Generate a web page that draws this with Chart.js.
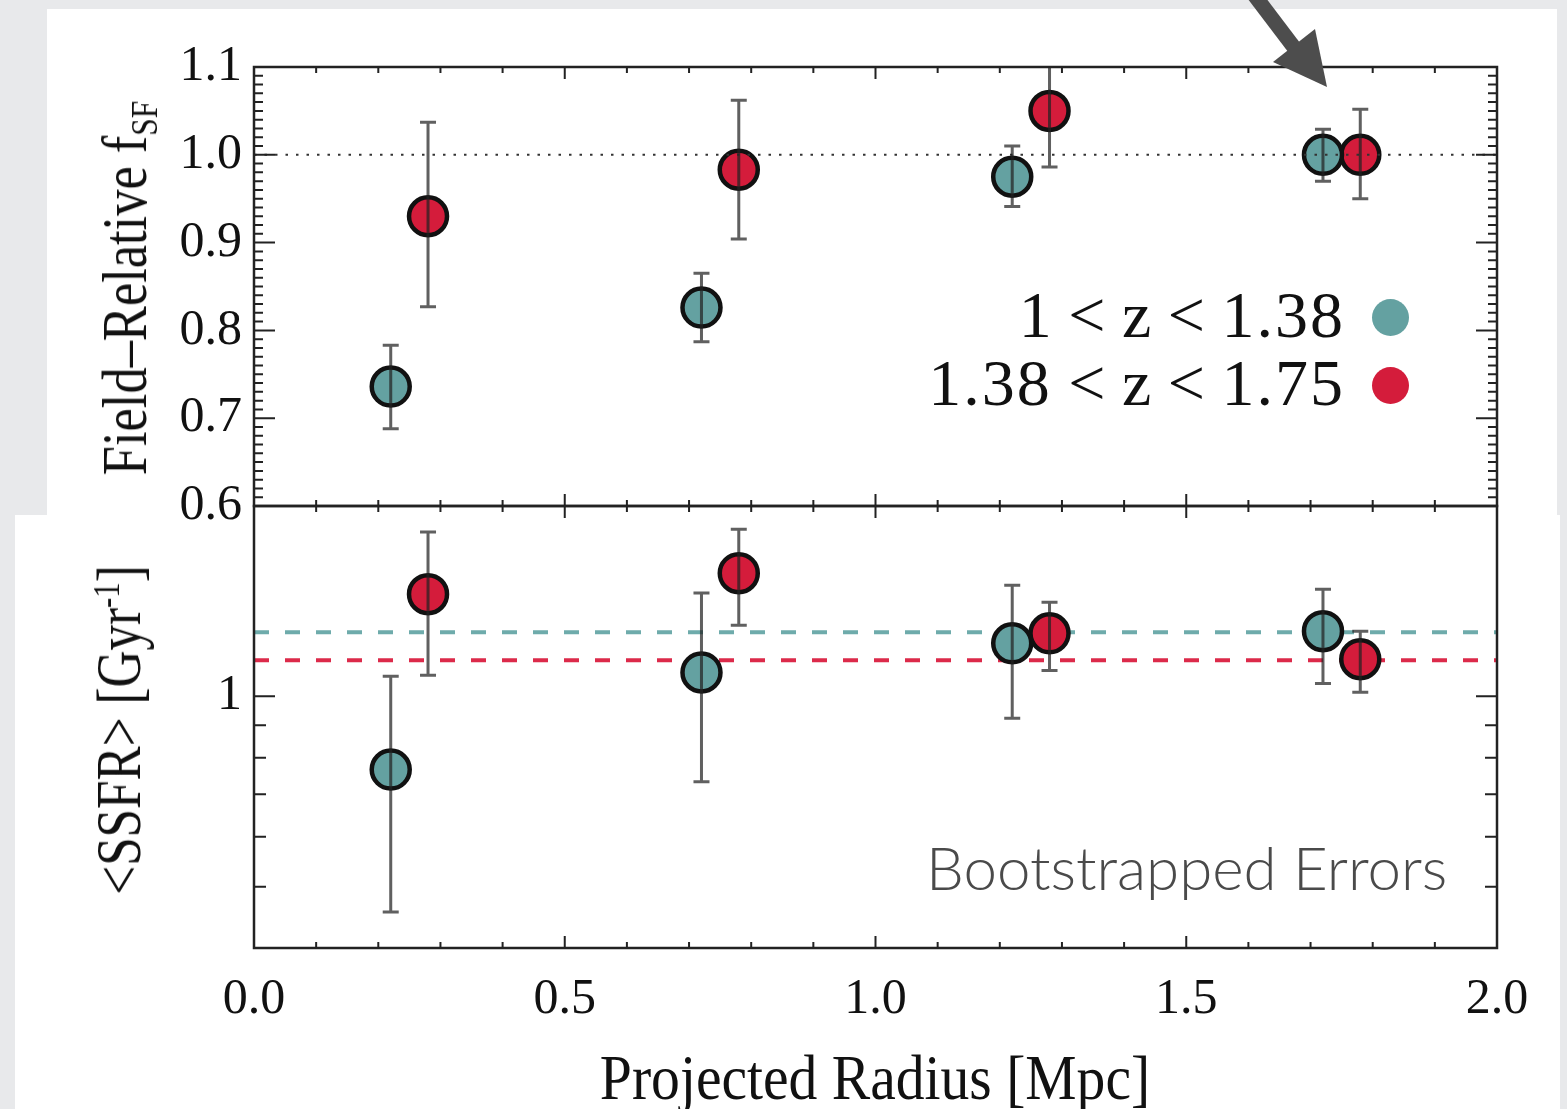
<!DOCTYPE html>
<html>
<head>
<meta charset="utf-8">
<title>Field-relative star formation vs projected radius</title>
<script src="https://cdn.jsdelivr.net/npm/chart.js@4.4.1/dist/chart.umd.min.js"></script>
<style>
  html, body { margin: 0; padding: 0; }
  body {
    width: 1567px; height: 1109px; position: relative; overflow: hidden;
    background: #e8e9eb; font-family: "Liberation Serif", "Times New Roman", serif; color: #111;
  }
  .sheet { position: absolute; background: #fff; }
  #sheetTop { left: 47px; top: 9px; width: 1510px; height: 506px; }
  #sheetBottom { left: 15px; top: 515px; width: 1545px; height: 594px; }
  .plotBox { position: absolute; left: 0; width: 1567px; }
  #fsfBox { top: 0; height: 560px; }
  #ssfrBox { top: 460px; height: 649px; }
  .axisTitle {
    position: absolute; white-space: nowrap; line-height: 1; font-size: 64px;
  }
  .axisTitle .sub { font-size: 0.6em; position: relative; top: 0.28em; }
  .axisTitle .sup { font-size: 0.6em; position: relative; top: -0.55em; }
  #fsfTitle { left: 125px; top: 288px; transform: translate(-50%, -50%) rotate(-90deg) scaleX(0.82); }
  #ssfrTitle { left: 119px; top: 730px; transform: translate(-50%, -50%) rotate(-90deg) scaleX(0.8); }
  #radiusTitle { left: 875px; top: 1078px; transform: translate(-50%, -50%) scaleX(0.9); }
  .legendRow { position: absolute; height: 66px; line-height: 66px; font-size: 66px; white-space: nowrap; }
  .legendRow .num { letter-spacing: 2px; }
  .legendDot { position: absolute; width: 37px; height: 37px; border-radius: 50%; }
  #note {
    position: absolute; left: 926px; top: 835px; font-family: "Lato", sans-serif; font-weight: 300;
    font-size: 60px; line-height: 64px; color: #4a4a4a; white-space: nowrap;
  }
  #pointer { position: absolute; left: 0; top: 0; }
</style>
</head>
<body>
<div class="sheet" id="sheetTop"></div>
<div class="sheet" id="sheetBottom"></div>
<div class="plotBox" id="fsfBox"><canvas id="fsfChart"></canvas></div>
<div class="plotBox" id="ssfrBox"><canvas id="ssfrChart"></canvas></div>

<div class="axisTitle" id="fsfTitle">Field–Relative f<span class="sub">SF</span></div>
<div class="axisTitle" id="ssfrTitle">&lt;SSFR&gt; [Gyr<span class="sup">-1</span>]</div>
<div class="axisTitle" id="radiusTitle">Projected Radius [Mpc]</div>
<div id="legendHolder"></div>
<div id="note">Bootstrapped Errors</div>

<svg id="pointer" width="1567" height="120">
  <line x1="1252" y1="-8" x2="1296" y2="50" stroke="#4d4d4d" stroke-width="15"/>
  <polygon points="1327,87 1273,62 1315,29" fill="#4d4d4d"/>
</svg>

<script>
// bin centres in projected radius (Mpc), offset per redshift slice
const radiusLowZ = [0.22, 0.72, 1.22, 1.72];
const radiusHighZ = [0.28, 0.78, 1.28, 1.78];

// field-relative star-forming fraction
const fsfLowZ = [0.736, 0.826, 0.975, 1.000];
const fsfLowZLo = [0.688, 0.787, 0.941, 0.970];
const fsfLowZHi = [0.783, 0.865, 1.010, 1.029];
const fsfHighZ = [0.930, 0.983, 1.050, 1.000];
const fsfHighZLo = [0.827, 0.904, 0.986, 0.950];
const fsfHighZHi = [1.037, 1.062, 1.105, 1.052];

// mean specific SFR (Gyr^-1), bootstrapped errors
const ssfrLowZ = [0.766, 1.091, 1.213, 1.268];
const ssfrLowZLo = [0.456, 0.733, 0.923, 1.048];
const ssfrLowZHi = [1.076, 1.457, 1.499, 1.477];
const ssfrHighZ = [1.451, 1.566, 1.258, 1.145];
const ssfrHighZLo = [1.080, 1.296, 1.099, 1.015];
const ssfrHighZHi = [1.819, 1.838, 1.409, 1.268];

// field reference levels
const fieldFsf = 1.0;
const fieldSsfrLowZ = 1.263;
const fieldSsfrHighZ = 1.14;

const sliceLabels = ['1 < z < 1.38', '1.38 < z < 1.75'];
const sliceColors = ['#64a1a1', '#d41c3b'];
const fieldLineColors = ['#6eabab', '#dc2a4a'];

const radiusTicks = [0.0, 0.5, 1.0, 1.5, 2.0];
const fsfTicks = [0.6, 0.7, 0.8, 0.9, 1.0, 1.1];
const ssfrTicks = [1];

const tickFont = { family: '"Liberation Serif", "Times New Roman", serif', size: 50 };

function pointsOf(xs, ys) {
    return xs.map((x, i) => ({ x: x, y: ys[i] }));
}

function markerSet(label, xs, ys, lo, hi, color) {
    return {
        label: label,
        data: pointsOf(xs, ys),
        errLo: lo,
        errHi: hi,
        backgroundColor: color,
        borderColor: '#111',
        borderWidth: 4.5,
        pointRadius: 19,
        pointHoverRadius: 19,
        order: 0
    };
}

function levelLine(value, color, dash, width, order) {
    return {
        data: [{ x: 0, y: value }, { x: 2, y: value }],
        showLine: true,
        borderColor: color,
        borderDash: dash,
        borderWidth: width,
        pointRadius: 0,
        pointHoverRadius: 0,
        order: order
    };
}

// vertical error bars with caps, drawn over the markers
const errorBars = {
    id: 'errorBars',
    afterDatasetsDraw(chart) {
        const { ctx, chartArea: a, scales } = chart;
        ctx.save();
        ctx.beginPath();
        ctx.rect(a.left, a.top - 1, a.width, a.height + 2);
        ctx.clip();
        ctx.strokeStyle = 'rgba(35,35,35,0.72)';
        ctx.lineWidth = 3;
        chart.data.datasets.forEach(ds => {
            if (!ds.errLo) return;
            ds.data.forEach((p, i) => {
                const px = scales.x.getPixelForValue(p.x);
                const yLo = scales.y.getPixelForValue(ds.errLo[i]);
                const yHi = scales.y.getPixelForValue(ds.errHi[i]);
                ctx.beginPath();
                ctx.moveTo(px, yLo); ctx.lineTo(px, yHi);
                ctx.moveTo(px - 8, yLo); ctx.lineTo(px + 8, yLo);
                ctx.moveTo(px - 8, yHi); ctx.lineTo(px + 8, yHi);
                ctx.stroke();
            });
        });
        ctx.restore();
    }
};

// closed box with inward major/minor ticks on all four sides
const frameTicks = {
    id: 'frameTicks',
    afterDraw(chart, args, opts) {
        const { ctx, chartArea: a, scales } = chart;
        ctx.save();
        ctx.strokeStyle = '#222';
        ctx.lineWidth = 2;
        ctx.beginPath();
        for (let i = 0; i <= 20; i++) {
            const px = scales.x.getPixelForValue(i / 10);
            const len = i % 5 === 0 ? 12 : 6;
            ctx.moveTo(px, a.top); ctx.lineTo(px, a.top + len);
            ctx.moveTo(px, a.bottom); ctx.lineTo(px, a.bottom - len);
        }
        const yTick = (v, len) => {
            const py = scales.y.getPixelForValue(v);
            ctx.moveTo(a.left, py); ctx.lineTo(a.left + len, py);
            ctx.moveTo(a.right, py); ctx.lineTo(a.right - len, py);
        };
        opts.yMinor.forEach(v => yTick(v, opts.minorLen));
        opts.yMajor.forEach(v => yTick(v, opts.majorLen));
        ctx.stroke();
        ctx.lineWidth = 2.5;
        ctx.strokeRect(a.left, a.top, a.width, a.height);
        ctx.restore();
    }
};

function fixedTicks(values) {
    return scale => { scale.ticks = values.map(v => ({ value: v })); };
}

const fsfMinor = [];
for (let i = 60; i <= 110; i++) fsfMinor.push(i / 100);

// upper panel: star-forming fraction relative to the field
new Chart(document.getElementById('fsfChart'), {
    type: 'scatter',
    data: {
        datasets: [
            markerSet(sliceLabels[0], radiusLowZ, fsfLowZ, fsfLowZLo, fsfLowZHi, sliceColors[0]),
            markerSet(sliceLabels[1], radiusHighZ, fsfHighZ, fsfHighZLo, fsfHighZHi, sliceColors[1]),
            levelLine(fieldFsf, '#333', [2.5, 8], 2, -1)
        ]
    },
    options: {
        responsive: true,
        maintainAspectRatio: false,
        animation: false,
        layout: { padding: { top: 67, right: 70, bottom: 54, left: 0 } },
        plugins: {
            legend: { display: false },
            tooltip: { enabled: false },
            frameTicks: { yMajor: fsfTicks, yMinor: fsfMinor, majorLen: 21, minorLen: 9 }
        },
        scales: {
            x: { type: 'linear', min: 0, max: 2, display: false },
            y: {
                type: 'linear', min: 0.6, max: 1.1,
                afterBuildTicks: fixedTicks(fsfTicks),
                afterFit: scale => { scale.width = 254; },
                grid: { display: false, drawTicks: false },
                border: { display: false },
                ticks: { font: tickFont, color: '#111', padding: 12, callback: v => v.toFixed(1) }
            }
        }
    },
    plugins: [errorBars, frameTicks]
});

// lower panel: mean SSFR on a log axis with field levels
new Chart(document.getElementById('ssfrChart'), {
    type: 'scatter',
    data: {
        datasets: [
            markerSet(sliceLabels[0], radiusLowZ, ssfrLowZ, ssfrLowZLo, ssfrLowZHi, sliceColors[0]),
            markerSet(sliceLabels[1], radiusHighZ, ssfrHighZ, ssfrHighZLo, ssfrHighZHi, sliceColors[1]),
            levelLine(fieldSsfrLowZ, fieldLineColors[0], [15, 16], 4, 2),
            levelLine(fieldSsfrHighZ, fieldLineColors[1], [15, 16], 4, 2)
        ]
    },
    options: {
        responsive: true,
        maintainAspectRatio: false,
        animation: false,
        layout: { padding: { top: 46, right: 70, bottom: 0, left: 0 } },
        plugins: {
            legend: { display: false },
            tooltip: { enabled: false },
            frameTicks: { yMajor: ssfrTicks, yMinor: [0.5, 0.6, 0.7, 0.8, 0.9], majorLen: 21, minorLen: 12 }
        },
        scales: {
            x: {
                type: 'linear', min: 0, max: 2,
                afterBuildTicks: fixedTicks(radiusTicks),
                afterFit: scale => { scale.height = 161; },
                grid: { display: false, drawTicks: false },
                border: { display: false },
                ticks: { font: tickFont, color: '#111', padding: 22, maxRotation: 0, callback: v => v.toFixed(1) }
            },
            y: {
                type: 'logarithmic', min: 0.4, max: 2.0,
                afterBuildTicks: fixedTicks(ssfrTicks),
                afterFit: scale => { scale.width = 254; },
                grid: { display: false, drawTicks: false },
                border: { display: false },
                ticks: { font: tickFont, color: '#111', padding: 12, callback: v => String(v) }
            }
        }
    },
    plugins: [errorBars, frameTicks]
});

// legend: text right-aligned, filled dot to its right
const legendHolder = document.getElementById('legendHolder');
const legendTops = [282, 350];
sliceLabels.forEach((label, i) => {
    const row = document.createElement('div');
    row.className = 'legendRow';
    row.style.top = legendTops[i] + 'px';
    row.style.right = (1567 - 1345) + 'px';
    row.innerHTML = label.replace(/&/g, '&amp;').replace(/</g, '&lt;')
        .replace(/(\d+\.\d+)/g, '<span class="num">$1</span>');
    legendHolder.appendChild(row);
    const dot = document.createElement('div');
    dot.className = 'legendDot';
    dot.style.background = sliceColors[i];
    dot.style.left = (1390 - 18.5) + 'px';
    dot.style.top = (legendTops[i] + 35 - 18.5) + 'px';
    legendHolder.appendChild(dot);
});
</script>
</body>
</html>
